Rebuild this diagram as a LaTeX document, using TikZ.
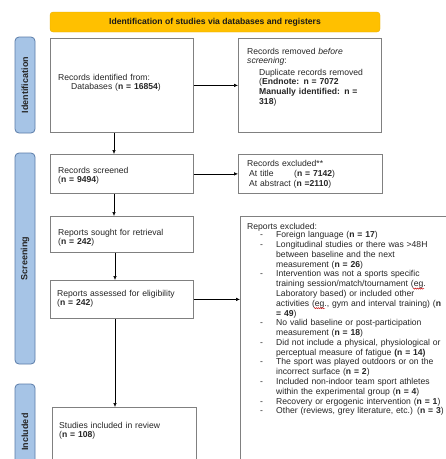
\documentclass[tikz,border=0pt]{standalone}
\usepackage{fontspec}
\setmainfont{Liberation Sans}
\usetikzlibrary{arrows.meta,decorations.pathmorphing}
\definecolor{bannerc}{HTML}{FFC000}
\definecolor{sidefill}{HTML}{A6C4E6}
\definecolor{sideline}{HTML}{5A7CA8}
\definecolor{boxline}{HTML}{808080}
\definecolor{txt}{HTML}{262626}
\newcommand{\pitem}{\makebox[29pt][l]{\hspace{13pt}-}}
\newcommand{\pcont}{\hspace*{29pt}}
\begin{document}
\begin{tikzpicture}[x=1pt,y=-1pt,
  box/.style={draw=boxline, line width=0.8pt, inner sep=0pt, anchor=north west},
  side/.style={draw=sideline, fill=sidefill, line width=0.8pt, rounded corners=4pt, rotate=90,
    minimum height=20pt, inner sep=0pt, text=black!85, font=\fontsize{9}{10}\selectfont\bfseries},
  txtnode/.style={anchor=base west, inner sep=0pt, text width=250pt, align=left, text=txt,
    font=\fontsize{8.6}{9.78}\selectfont},
  arr/.style={line width=0.6pt, -{Latex[length=4pt,width=3.6pt]}},
  spell/.style={draw=red!80!black, line width=0.4pt, decorate,
    decoration={snake, amplitude=0.6pt, segment length=2pt}}]
\clip (0,0) rectangle (446,459);
\fill[white] (0,0) rectangle (446,459);
% banner
\node[fill=bannerc, draw=bannerc!90!black, line width=0.3pt, rounded corners=3pt, minimum width=330pt, minimum height=20pt,
  inner sep=0pt, font=\fontsize{8.6}{10}\selectfont\bfseries, text=black!90] (banner) at (215,22)
  {Identification of studies via databases and registers};
% side labels
\node[side, minimum width=96pt] (lid) at (25,85) {Identification};
\node[side, minimum width=211pt] (lsc) at (25,258.5) {Screening};
\node[side, minimum width=96pt] (lin) at (25,432) {Included};
% boxes
\node[box, minimum width=143pt, minimum height=94pt] (A) at (50,38) {};
\node[box, minimum width=143pt, minimum height=94pt] (B) at (238,38) {};
\node[box, minimum width=143pt, minimum height=39pt] (C) at (50,154) {};
\node[box, minimum width=144pt, minimum height=39pt] (D) at (238,154) {};
\node[box, minimum width=143pt, minimum height=36pt] (E) at (50,216) {};
\node[box, minimum width=143pt, minimum height=38pt] (F) at (50,280) {};
\node[box, minimum width=230pt, minimum height=270pt] (G) at (240,216) {};
\node[box, minimum width=144pt, minimum height=80pt] (H) at (52,407) {};
% texts
\node[txtnode] (tA) at (58,80) {Records identified from:\\\hspace*{13pt}Databases (\textbf{n = 16854})};
\node[txtnode] (tB) at (247,54) {Records removed \textit{before}\\\textit{screening}:\\[1.5pt]
  \hspace*{12pt}Duplicate records removed\\\hspace*{12pt}(\textbf{Endnote: n = 7072}\\
  \hspace*{12pt}\textbf{Manually identified: n =}\\\hspace*{12pt}\textbf{318})};
\node[txtnode] (tC) at (58,173) {Records screened\\(\textbf{n = 9494})};
\node[txtnode] (tD) at (247,166.5) {Records excluded**\\
  \hspace*{2pt}\makebox[45pt][l]{At title}(\textbf{n = 7142})\\
  \hspace*{2pt}At abstract (\textbf{n =2110})};
\node[txtnode] (tE) at (58,235) {Reports sought for retrieval\\(\textbf{n = 242})};
\node[txtnode] (tF) at (57,296) {Reports assessed for eligibility\\(\textbf{n = 242})};
\node[txtnode] (tG) at (247,229.5) {Reports excluded:\\[-1.5pt]
  \pitem Foreign language (\textbf{n = 17})\\
  \pitem Longitudinal studies or there was >48H\\
  \pcont between baseline and the next\\
  \pcont measurement (\textbf{n = 26})\\
  \pitem Intervention was not a sports specific\\
  \pcont training session/match/tournament (eg.\\
  \pcont Laboratory based) or included other\\
  \pcont activities (eg., gym and interval training) (\textbf{n}\\
  \pcont \textbf{= 49})\\
  \pitem No valid baseline or post-participation\\
  \pcont measurement (\textbf{n = 18})\\
  \pitem Did not include a physical, physiological or\\
  \pcont perceptual measure of fatigue \textbf{(n = 14)}\\
  \pitem The sport was played outdoors or on the\\
  \pcont incorrect surface (\textbf{n = 2})\\
  \pitem Included non-indoor team sport athletes\\
  \pcont within the experimental group (\textbf{n = 4})\\
  \pitem Recovery or ergogenic intervention (\textbf{n = 1})\\
  \pitem Other (reviews, grey literature, etc.) (\textbf{n = 3})};
\node[txtnode] (tH) at (59,428) {Studies included in review\\(\textbf{n = 108})};
% spell-check marks
\draw[spell] (413,288.6) -- (424,288.6);
\draw[spell] (314,308.2) -- (325,308.2);
% arrows
\draw[arr] (A.east) -- (B.west);
\draw[arr] ([xshift=64pt]A.south west) -- ([xshift=64pt]C.north west);
\draw[arr] (C.east) -- (C.east -| D.west);
\draw[arr] ([xshift=64pt]C.south west) -- ([xshift=64pt]E.north west);
\draw[arr] ([xshift=65pt]E.south west) -- ([xshift=65pt]F.north west);
\draw[arr] (F.east) -- (F.east -| G.west);
\draw[arr] ([xshift=65pt]F.south west) -- ([xshift=65pt]F.south west |- H.north);
\end{tikzpicture}
\end{document}
